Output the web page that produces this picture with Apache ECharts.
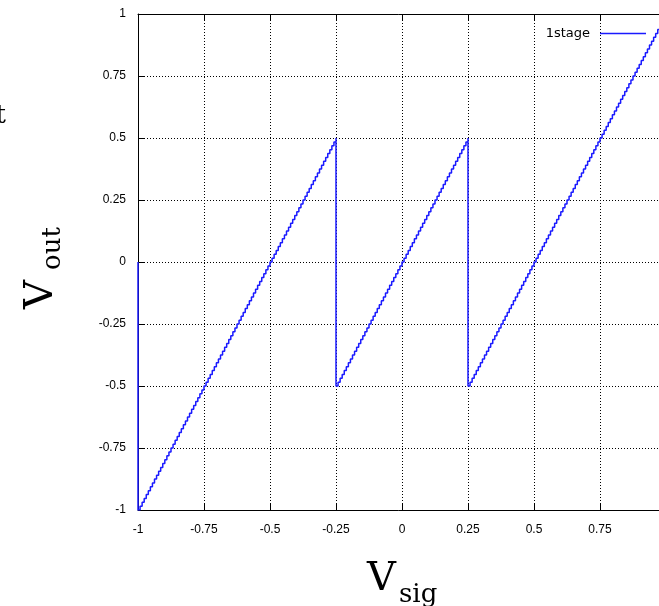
<!DOCTYPE html>
<html>
<head>
<meta charset="utf-8">
<script src="https://cdn.jsdelivr.net/npm/echarts@6/dist/echarts.min.js"></script>
<style>
html,body{margin:0;padding:0;background:#fff;}
#chart{width:659px;height:606px;}
</style>
</head>
<body>
<div id="chart"></div>
<script>
// Quantizer input/output codes (1 LSB in x = 1/128, in y = 1/64)
const vSigLsb = 1 / 128;
const vOutLsb = 1 / 64;
const seriesName = '1stage';
const xTicks = { min: -1, max: 1, interval: 0.25 };
const yTicks = { min: -1, max: 1, interval: 0.25 };
const xName = ['V', 'sig'];
const yName = ['V', 'out'];

const vSigCode = [
  -128,
  -128,-127,-126,-125,-124,-123,-122,-121,-120,-119,-118,-117,-116,-115,-114,-113,
  -112,-111,-110,-109,-108,-107,-106,-105,-104,-103,-102,-101,-100,-99,-98,-97,
  -96,-95,-94,-93,-92,-91,-90,-89,-88,-87,-86,-85,-84,-83,-82,-81,
  -80,-79,-78,-77,-76,-75,-74,-73,-72,-71,-70,-69,-68,-67,-66,-65,
  -64,-63,-62,-61,-60,-59,-58,-57,-56,-55,-54,-53,-52,-51,-50,-49,
  -48,-47,-46,-45,-44,-43,-42,-41,-40,-39,-38,-37,-36,-35,-34,-33,
  -32,
  -32,-31,-30,-29,-28,-27,-26,-25,-24,-23,-22,-21,-20,-19,-18,-17,
  -16,-15,-14,-13,-12,-11,-10,-9,-8,-7,-6,-5,-4,-3,-2,-1,
  0,1,2,3,4,5,6,7,8,9,10,11,12,13,14,15,
  16,17,18,19,20,21,22,23,24,25,26,27,28,29,30,31,
  32,
  32,33,34,35,36,37,38,39,40,41,42,43,44,45,46,47,
  48,49,50,51,52,53,54,55,56,57,58,59,60,61,62,63,
  64,65,66,67,68,69,70,71,72,73,74,75,76,77,78,79,
  80,81,82,83,84,85,86,87,88,89,90,91,92,93,94,95,
  96,97,98,99,100,101,102,103,104,105,106,107,108,109,110,111,
  112,113,114,115,116,117,118,119,120,121,122,123,124,125,126,127,
  128
];

const vOutCode = [
  0,
  -64,-63,-62,-61,-60,-59,-58,-57,-56,-55,-54,-53,-52,-51,-50,-49,
  -48,-47,-46,-45,-44,-43,-42,-41,-40,-39,-38,-37,-36,-35,-34,-33,
  -32,-31,-30,-29,-28,-27,-26,-25,-24,-23,-22,-21,-20,-19,-18,-17,
  -16,-15,-14,-13,-12,-11,-10,-9,-8,-7,-6,-5,-4,-3,-2,-1,
  0,1,2,3,4,5,6,7,8,9,10,11,12,13,14,15,
  16,17,18,19,20,21,22,23,24,25,26,27,28,29,30,31,
  32,
  -32,-31,-30,-29,-28,-27,-26,-25,-24,-23,-22,-21,-20,-19,-18,-17,
  -16,-15,-14,-13,-12,-11,-10,-9,-8,-7,-6,-5,-4,-3,-2,-1,
  0,1,2,3,4,5,6,7,8,9,10,11,12,13,14,15,
  16,17,18,19,20,21,22,23,24,25,26,27,28,29,30,31,
  32,
  -32,-31,-30,-29,-28,-27,-26,-25,-24,-23,-22,-21,-20,-19,-18,-17,
  -16,-15,-14,-13,-12,-11,-10,-9,-8,-7,-6,-5,-4,-3,-2,-1,
  0,1,2,3,4,5,6,7,8,9,10,11,12,13,14,15,
  16,17,18,19,20,21,22,23,24,25,26,27,28,29,30,31,
  32,33,34,35,36,37,38,39,40,41,42,43,44,45,46,47,
  48,49,50,51,52,53,54,55,56,57,58,59,60,61,62,63,
  64
];

const data = vSigCode.map((c, i) => [c * vSigLsb, vOutCode[i] * vOutLsb]);

const chart = echarts.init(document.getElementById('chart'), null, { renderer: 'canvas' });

const tickFont = { fontFamily: 'Liberation Sans', fontSize: 12, color: '#000' };
const gridLine = { show: true, lineStyle: { color: '#000', width: 1, type: [1, 2] } };
const axisLine = { show: true, onZero: false, lineStyle: { color: '#000', width: 1 } };
const axisTick = { show: true, inside: true, length: 6, lineStyle: { color: '#000', width: 1 } };

const serif = 'DejaVu Serif';

chart.setOption({
  animation: false,
  backgroundColor: '#fff',
  grid: { left: 138, top: 14, width: 528, height: 496, containLabel: false, outerBoundsMode: 'none' },
  legend: {
    data: [seriesName],
    right: 13,
    top: 27,
    padding: 0,
    align: 'right',
    icon: 'rect',
    itemWidth: 46,
    itemHeight: 1.5,
    textStyle: { fontFamily: 'DejaVu Sans', fontSize: 13, color: '#000', padding: [0, 5, 0, 0] }
  },
  xAxis: [
    {
      type: 'value', position: 'bottom',
      min: xTicks.min, max: xTicks.max, interval: xTicks.interval,
      axisLine: axisLine, axisTick: axisTick, splitLine: gridLine,
      axisLabel: Object.assign({ margin: 14 }, tickFont)
    },
    {
      type: 'value', position: 'top',
      min: xTicks.min, max: xTicks.max, interval: xTicks.interval,
      axisLine: axisLine, axisTick: axisTick, splitLine: { show: false },
      axisLabel: { show: false }
    }
  ],
  yAxis: [
    {
      type: 'value', position: 'left',
      min: yTicks.min, max: yTicks.max, interval: yTicks.interval,
      axisLine: axisLine, axisTick: axisTick, splitLine: gridLine,
      axisLabel: Object.assign({ margin: 12 }, tickFont)
    },
    {
      type: 'value', position: 'right',
      min: yTicks.min, max: yTicks.max, interval: yTicks.interval,
      axisLine: axisLine, axisTick: axisTick, splitLine: { show: false },
      axisLabel: { show: false }
    }
  ],
  series: [
    {
      name: seriesName,
      type: 'line',
      xAxisIndex: 0,
      yAxisIndex: 0,
      step: 'end',
      symbol: 'none',
      data: data,
      lineStyle: { color: '#1a1aff', width: 1.5 },
      itemStyle: { color: '#1a1aff' },
      z: 5
    }
  ],
  graphic: [
    // x-axis title V_sig
    { type: 'text', left: 367, top: 560, style: { text: xName[0], font: '40px "' + serif + '"', fill: '#000' } },
    { type: 'text', left: 399, top: 582, style: { text: xName[1], font: '26px "' + serif + '"', fill: '#000' } },
    // y-axis title V_out (rotated, reading bottom to top)
    { type: 'text', x: 62, y: 309, rotation: Math.PI / 2,
      style: { text: yName[0], font: '40px "' + serif + '"', fill: '#000', textAlign: 'left', verticalAlign: 'bottom' } },
    { type: 'text', x: 66, y: 270, rotation: Math.PI / 2,
      style: { text: yName[1], font: '26px "' + serif + '"', fill: '#000', textAlign: 'left', verticalAlign: 'bottom' } },
    // clipped stray glyph at the left edge
    { type: 'text', x: 6, y: 129, style: { text: 't', font: '26px "' + serif + '"', fill: '#000', textAlign: 'right', verticalAlign: 'bottom' } }
  ]
});
</script>
</body>
</html>
